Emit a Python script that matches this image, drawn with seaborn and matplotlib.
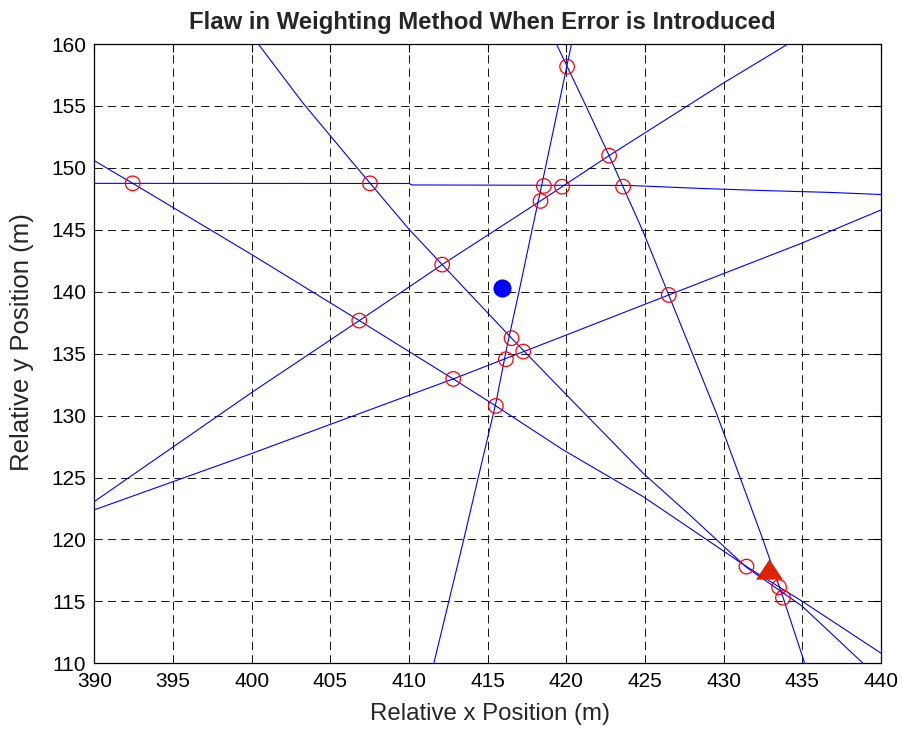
import numpy as np
import pandas as pd
import matplotlib
matplotlib.use("Agg")
import matplotlib.pyplot as plt
import seaborn as sns

# ---------------- data ----------------
line_a_x = [390.0, 410.0, 410.2, 424.0, 428.7, 433.0, 436.7, 440.0]
line_a_y = [148.75, 148.74, 148.62, 148.58, 148.33, 148.15, 148.02, 147.85]

line_b_x = [400.42, 403.28, 406.46, 409.95, 412.11, 416.52, 420.01, 424.88, 427.84,
            431.45, 435.0, 438.86]
line_b_y = [160.0, 155.2, 150.37, 145.12, 142.19, 136.25, 131.67, 125.35, 121.98,
            117.75, 114.6, 110.0]

line_c_x = [390.0, 392.44, 399.94, 406.84, 412.81, 415.52, 419.8, 424.88, 431.45,
            435.0, 440.0]
line_c_y = [150.58, 148.75, 143.05, 137.67, 132.96, 130.78, 127.23, 123.46, 117.81,
            115.0, 110.82]

line_d_x = [411.58, 412.55, 413.5, 414.42, 415.52, 416.2, 417.04, 417.79, 418.57,
            419.37, 420.33]
line_d_y = [110.0, 115.1, 120.1, 125.1, 131.0, 135.4, 140.3, 144.8, 149.4,
            154.2, 160.0]

line_e_x = [390.0, 399.94, 406.84, 412.11, 418.36, 422.72, 429.96, 434.09]
line_e_y = [123.06, 131.81, 137.67, 142.19, 147.33, 150.99, 156.83, 160.0]

line_f_x = [419.37, 421.07, 422.72, 424.88, 426.51, 429.54, 432.5, 433.77, 435.15]
line_f_y = [160.0, 155.48, 150.99, 144.85, 139.74, 130.19, 119.97, 115.34, 110.0]

line_g_x = [390.0, 399.94, 412.81, 420.01, 426.51, 434.94, 440.0]
line_g_y = [122.39, 126.91, 132.96, 136.51, 139.74, 143.91, 146.6]

# intersection points (red open circles)
cross_x = [392.44, 407.52, 412.11, 406.84, 412.81, 420.05, 422.72, 418.36, 418.57,
           419.73, 423.61, 426.51, 416.52, 417.26, 416.16, 415.52, 431.45, 433.52, 433.77]
cross_y = [148.75, 148.75, 142.19, 137.67, 132.96, 158.17, 150.99, 147.33, 148.54,
           148.48, 148.48, 139.74, 136.25, 135.17, 134.55, 130.78, 117.81, 116.15, 115.3]

# weighted estimate (blue dot) and true position (red triangle)
estimate_x = [415.92]
estimate_y = [140.28]
true_x = [432.88]
true_y = [117.6]

title_text = "Flaw in Weighting Method When Error is Introduced"
x_label = "Relative x Position (m)"
y_label = "Relative y Position (m)"
x_ticks = list(range(390, 441, 5))
y_ticks = list(range(110, 161, 5))

# ---------------- style ----------------
sns.set_style("white")
plt.rcParams['font.family'] = ['Liberation Sans', 'DejaVu Sans']
plt.rcParams['lines.scale_dashes'] = False

fig = plt.figure(figsize=(9.06, 7.30), dpi=100)
ax = fig.add_axes([94.3 / 906, 1 - 663.3 / 730, (881 - 94.3) / 906, (663.3 - 44) / 730])

lines = [(line_a_x, line_a_y), (line_b_x, line_b_y), (line_c_x, line_c_y),
         (line_d_x, line_d_y), (line_e_x, line_e_y), (line_f_x, line_f_y),
         (line_g_x, line_g_y)]
for lx, ly in lines:
    sns.lineplot(x=lx, y=ly, sort=False, estimator=None, color='#0000ff',
                 linewidth=0.8, ax=ax, zorder=3)

sns.scatterplot(x=cross_x, y=cross_y, marker='o', s=110, color='red',
                facecolors='none', edgecolor='red', linewidth=0.9, ax=ax, zorder=4)

sns.scatterplot(x=estimate_x, y=estimate_y, marker='o', s=170, color='#0000ff',
                edgecolor='#0000ff', linewidth=0, ax=ax, zorder=5)

tri = [(0, 0.75), (-1, -0.75), (1, -0.75), (0, 0.75)]
sns.scatterplot(x=true_x, y=true_y, marker=tri, s=19.5 ** 2, color='#dd2200',
                edgecolor='#dd2200', linewidth=0, ax=ax, zorder=5)

ax.set_xlim(390, 440)
ax.set_ylim(110, 160)
ax.set_xticks(x_ticks)
ax.set_yticks(y_ticks)
ax.grid(True, color='#111111', linestyle=(0, (6, 3.6)), linewidth=0.7)
ax.set_axisbelow(True)

for sp in ax.spines.values():
    sp.set_visible(True)
    sp.set_color('black')
    sp.set_linewidth(0.9)

ax.tick_params(axis='both', direction='in', length=6, width=0.8, color='black',
               top=True, right=True, labelsize=15, labelcolor='black', pad=6)

ax.set_title(title_text, fontsize=17.2, fontweight='bold', pad=10.8, x=0.493)
ax.set_xlabel(x_label, fontsize=17.3)
ax.set_ylabel(y_label, fontsize=18.5)
ax.xaxis.set_label_coords(0.5035, -0.064)
ax.yaxis.set_label_coords(-0.077, 0.519)

fig.savefig("out.png", dpi=100, facecolor='white')
